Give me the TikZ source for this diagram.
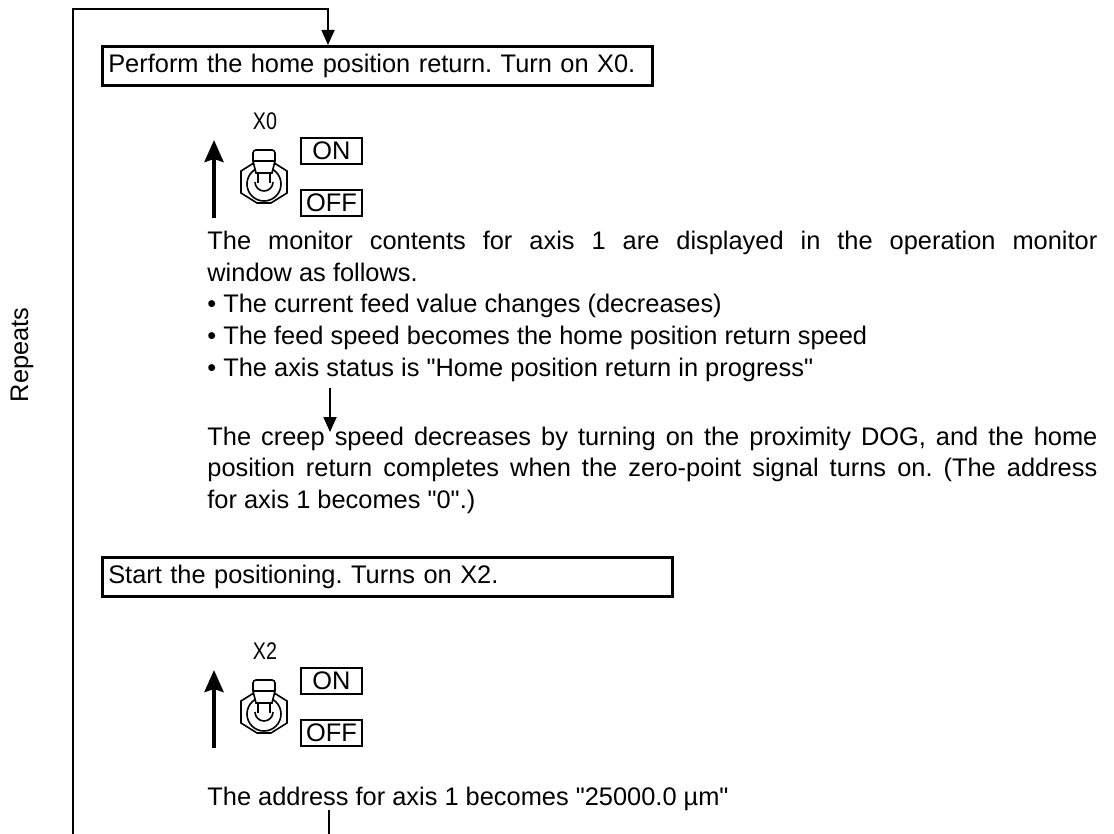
\documentclass[tikz,border=0pt]{standalone}
\usepackage{fontspec}
\setmainfont{Liberation Sans}[Ligatures=TeXOff]
\newfontfamily\narrowfont[FakeStretch=0.82]{Liberation Sans}
\usetikzlibrary{arrows.meta,positioning}
\frenchspacing

% toggle switch with its lever up, ON/OFF keys and the push arrow
\newcommand{\switchpanel}[2]{%
\begin{scope}[shift={(0,#1)}]
  \node[swlabel] (lbl#2) at (265,121) {X#2};
  \draw[bigarr] (214,218) -- (214,140);
  \draw[sw] (241,171) -- (257,161) -- (271,161) -- (287,171) -- (287,193) -- (271,203) -- (257,203) -- (241,193) -- cycle;
  \draw[sw] (264,184) circle (17);
  \draw[sw] (255,182) arc[start angle=180, end angle=0, radius=9];
  \draw[sw, fill=white, rounded corners=1.5pt] (253,161) -- (253,150) -- (275,150) -- (275,161);
  \draw[sw, fill=white] (253,161) -- (275,161) -- (272,173) -- (256,173) -- cycle;
  \draw[sw] (258,173) -- (258,183) (270,173) -- (270,183);
  \node[keybox] (on#2) at (331.5,151) {ON};
  \node[keybox] (off#2) at (331.5,203) {OFF};
\end{scope}}

\begin{document}
\begin{tikzpicture}[x=0.5pt, y=-0.5pt,
  every node/.style={font=\fontsize{12.7}{15.75}\selectfont, inner sep=0pt},
  stepbox/.style={draw, line width=1.3pt, anchor=north west, minimum height=19.5pt, inner xsep=3pt, align=left},
  keybox/.style={draw, line width=1pt, minimum width=30.5pt, minimum height=13pt},
  para/.style={anchor=base west, text width=445pt, align=justify},
  swlabel/.style={font=\narrowfont\fontsize{12}{14}\selectfont},
  arr/.style={-{Triangle[width=6.5pt,length=7.5pt]}, line width=0.9pt},
  bigarr/.style={-{Stealth[width=9.5pt,length=11pt,inset=1.5pt]}, line width=2pt},
  sw/.style={line width=0.8pt},
  loopline/.style={line width=1pt}
]
\useasboundingbox (0,0) rectangle (1114,834);

\node[stepbox, text width=269pt] (home) at (101,45) {Perform the home position return. Turn on X0.};
\node[stepbox, text width=279pt] (start) at (101,556) {Start the positioning. Turns on X2.};

\node[rotate=90] (rep) at (22,355) {Repeats};

\switchpanel{0}{0}
\switchpanel{530}{2}

\node[para] (mon) at (207,250) {\tolerance=10000\hyphenpenalty=10000
The monitor contents for axis 1 are displayed in the operation monitor\linebreak window as follows.\\
• The current feed value changes (decreases)\\
• The feed speed becomes the home position return speed\\
• The axis status is "Home position return in progress"};

\node[para] (creep) at (207,445) {\tolerance=10000\hyphenpenalty=10000
The creep speed decreases by turning on the proximity DOG, and the home\linebreak position return completes when the zero-point signal turns on. (The address\linebreak for axis 1 becomes "0".)};

\node[anchor=base west] (addr) at (207,805) {The address for axis 1 becomes "25000.0 µm"};

\coordinate (loopend) at (73,834);
\coordinate (looptop) at (328,9);
\coordinate (midtop) at (330,388);
\coordinate (midtip) at (330,432);
\coordinate (addrline) at (329,810);
\coordinate (bottom) at (329,834);

\draw[loopline, arr] (loopend) |- (looptop) -- (looptop |- home.north);
\draw[arr] (midtop) -- (midtip);
\draw[loopline] (addrline) -- (bottom);

\end{tikzpicture}
\end{document}
